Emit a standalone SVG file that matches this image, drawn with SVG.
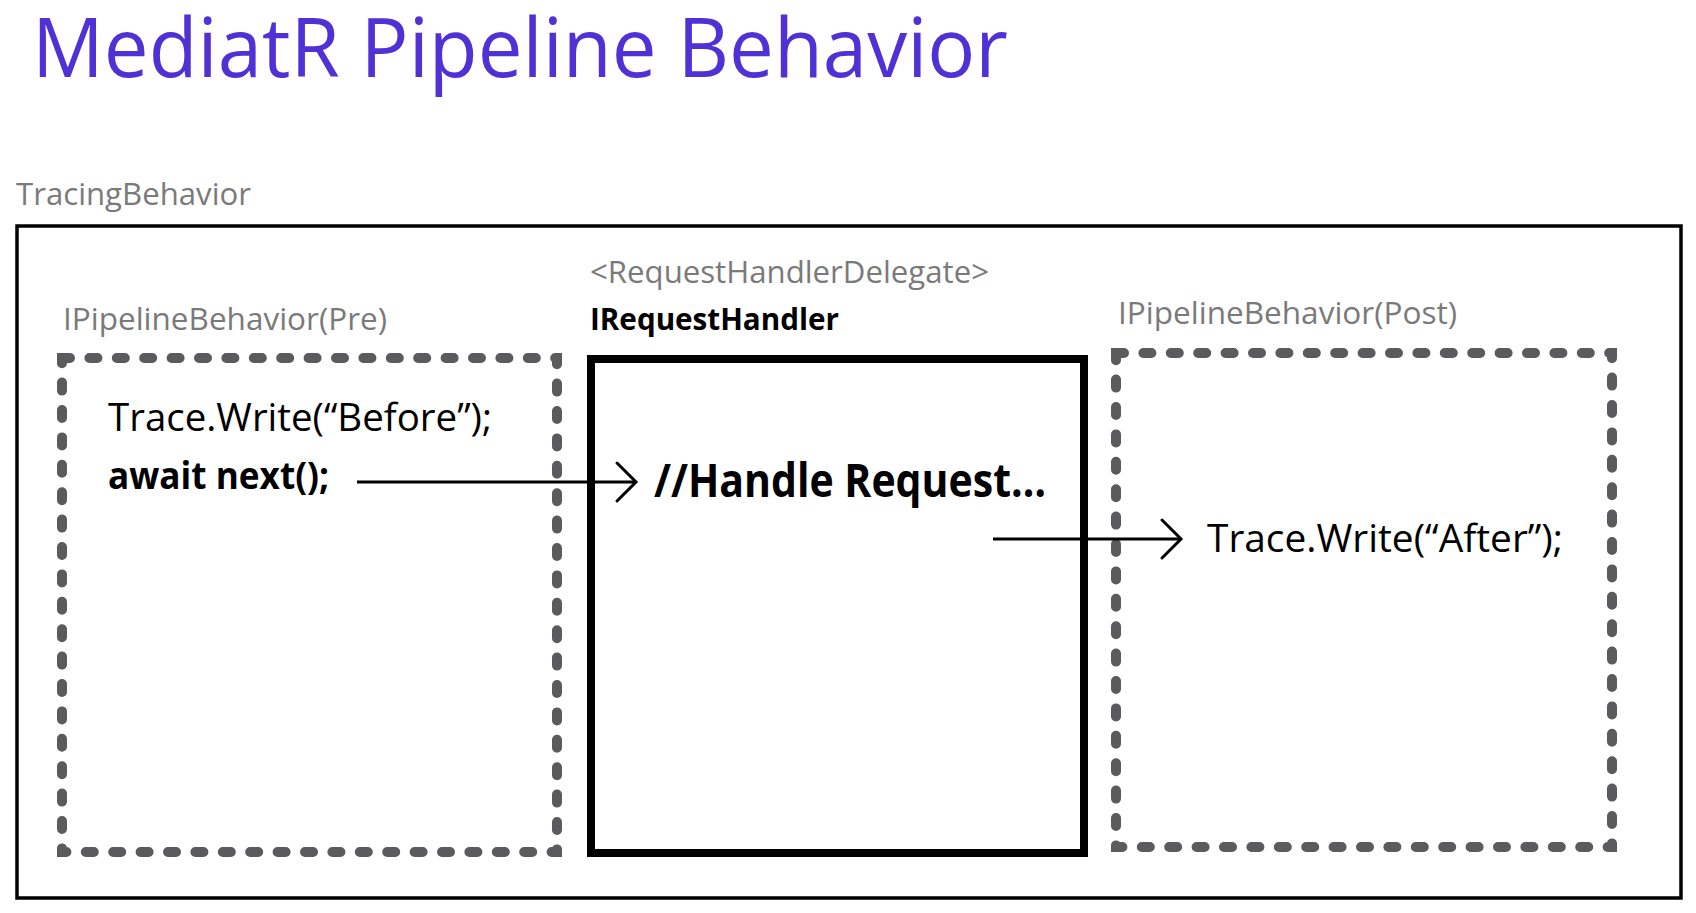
<svg xmlns="http://www.w3.org/2000/svg" width="1696" height="913" viewBox="0 0 1696 913">
  <style>
    .title { font-family: "Open Sans", "Noto Sans", sans-serif; font-size: 82px; font-weight: 400; fill: #4F31D6; }
    .label { font-family: "Open Sans", "Noto Sans", sans-serif; font-size: 31px; fill: #7a7a7a; }
    .boldlabel { font-family: "Open Sans", "Noto Sans", sans-serif; font-size: 31px; font-weight: 700; fill: #000; }
    .code { font-family: "Open Sans", "Noto Sans", sans-serif; font-size: 38px; fill: #000; }
    .codeb { font-family: "Open Sans", "Noto Sans", sans-serif; font-size: 38px; font-weight: 700; fill: #000; }
    .big { font-family: "Open Sans", "Noto Sans", sans-serif; font-size: 46px; font-weight: 700; fill: #000; }
    .dashed { fill: none; stroke: #5b5b5d; stroke-width: 10; stroke-dasharray: 8 19.4; stroke-linecap: round; }
    .conn { fill: none; stroke: #000; stroke-width: 3; }
    .head { fill: none; stroke: #000; stroke-width: 3; stroke-linecap: round; stroke-linejoin: miter; }
  </style>
  <rect width="1696" height="913" fill="#ffffff"/>

  <text class="title" x="32" y="77" textLength="976" lengthAdjust="spacingAndGlyphs">MediatR Pipeline Behavior</text>

  <g id="tracing-behavior">
    <text class="label" x="16" y="205" textLength="235" lengthAdjust="spacingAndGlyphs">TracingBehavior</text>
    <rect x="17" y="226" width="1664" height="672" fill="none" stroke="#000" stroke-width="3.5"/>
  </g>

  <g id="pipeline-pre">
    <text class="label" x="63" y="330" textLength="324" lengthAdjust="spacingAndGlyphs">IPipelineBehavior(Pre)</text>
    <rect class="dashed" x="62" y="358" width="495" height="494"/>
    <text class="code" x="108" y="431" textLength="384" lengthAdjust="spacingAndGlyphs">Trace.Write(“Before”);</text>
    <text class="codeb" x="108" y="489" textLength="221" lengthAdjust="spacingAndGlyphs">await next();</text>
  </g>

  <g id="request-handler">
    <text class="label" x="590" y="283" textLength="399" lengthAdjust="spacingAndGlyphs">&lt;RequestHandlerDelegate&gt;</text>
    <text class="boldlabel" x="590" y="330" textLength="249" lengthAdjust="spacingAndGlyphs">IRequestHandler</text>
    <rect x="591" y="359" width="493" height="494" fill="none" stroke="#000" stroke-width="8"/>
    <text class="big" x="654" y="497" textLength="392" lengthAdjust="spacingAndGlyphs">//Handle Request…</text>
  </g>

  <g id="pipeline-post">
    <text class="label" x="1118" y="324" textLength="339" lengthAdjust="spacingAndGlyphs">IPipelineBehavior(Post)</text>
    <rect class="dashed" x="1116" y="353" width="496" height="494"/>
    <text class="code" x="1207" y="552" textLength="356" lengthAdjust="spacingAndGlyphs">Trace.Write(“After”);</text>
  </g>

  <g id="connectors">
    <line class="conn" x1="357" y1="482" x2="636" y2="482"/>
    <polyline class="head" points="617,463 636,482 617,501"/>
    <line class="conn" x1="993" y1="539" x2="1181" y2="539"/>
    <polyline class="head" points="1162,520 1181,539 1162,558"/>
  </g>
</svg>
